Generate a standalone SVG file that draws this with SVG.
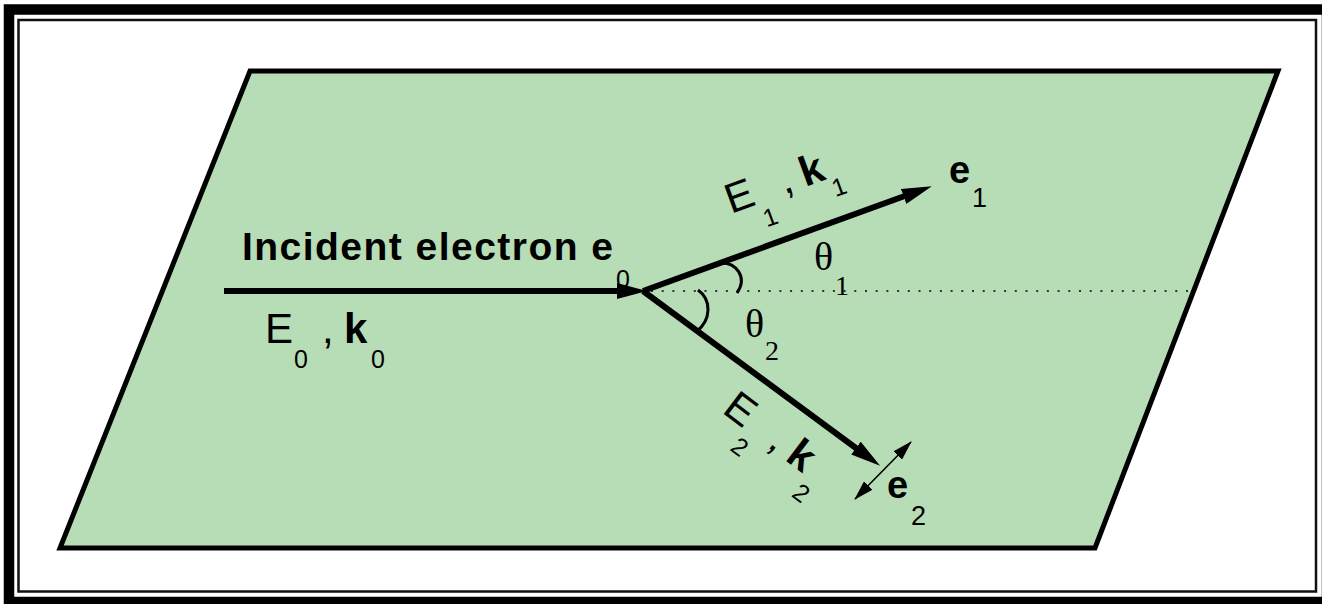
<svg xmlns="http://www.w3.org/2000/svg" width="1322" height="604" viewBox="0 0 1322 604">
<style>
.sans{font-family:"Liberation Sans",Arial,sans-serif;fill:#000}
.serif{font-family:"Liberation Serif","Times New Roman",serif;fill:#000}
.b{font-weight:bold}
.big{font-size:42px}
.sub{font-size:25px}
.th{font-size:40px}
.thsub{font-size:28px}
.ray{stroke:#000;stroke-width:6;fill:none}
</style>
<defs>
<marker id="ah" markerUnits="userSpaceOnUse" viewBox="0 0 30 16" markerWidth="30" markerHeight="16" refX="10" refY="8" orient="auto">
<path d="M0,0 L30,8 L0,16 z" fill="#000"/>
</marker>
<marker id="ahs" markerUnits="userSpaceOnUse" viewBox="0 0 20 12" markerWidth="20" markerHeight="12" refX="19" refY="6" orient="auto-start-reverse">
<path d="M0,0 L20,6 L0,12 z" fill="#000"/>
</marker>
</defs>
<rect x="0" y="0" width="1322" height="604" fill="#fff"/>
<g id="frame">
<rect x="9" y="9.5" width="1318" height="592.5" fill="none" stroke="#000" stroke-width="10.5"/>
<rect x="18.5" y="20" width="1297.5" height="571.5" fill="none" stroke="#111" stroke-width="2.5"/>
</g>
<g id="plane">
<polygon points="250,71 1278,71 1095,548 60,548" fill="#B7DDB6" stroke="#000" stroke-width="5" stroke-linejoin="miter"/>
</g>
<g id="connectors">
<line x1="651" y1="291" x2="1192" y2="291" stroke="#333" stroke-width="2" stroke-dasharray="2 8.7"/>
<line class="ray" x1="224" y1="291" x2="627" y2="291" stroke-width="5" marker-end="url(#ah)"/>
<line class="ray" x1="643" y1="291" x2="913" y2="193" marker-end="url(#ah)"/>
<line class="ray" x1="643" y1="291" x2="864" y2="454" stroke-width="6.5" marker-end="url(#ah)"/>
<line x1="855" y1="499" x2="911" y2="442" stroke="#000" stroke-width="1.6" marker-start="url(#ahs)" marker-end="url(#ahs)"/>
<path d="M720,263 C736,262 748,277 737,293" fill="none" stroke="#000" stroke-width="3"/>
<path d="M698,290 C712,300 711,320 697,331" fill="none" stroke="#000" stroke-width="3"/>
</g>
<g id="incident-label">
<text class="sans b" x="242" y="260" font-size="39" textLength="371" lengthAdjust="spacing">Incident electron e</text>
<text class="sans" x="616" y="288" font-size="25">0</text>
</g>
<g id="label-e0">
<text class="sans big" x="265" y="343">E</text>
<text class="sans sub" x="294" y="368">0</text>
<text class="sans big" x="322" y="343">,</text>
<text class="sans big b" x="344" y="343">k</text>
<text class="sans sub" x="371" y="368">0</text>
</g>
<g id="label-e1k1" transform="translate(731,214) rotate(-20)">
<text class="sans big" x="0" y="0">E</text>
<text class="sans sub" x="29" y="25">1</text>
<text class="sans big" x="57" y="0">,</text>
<text class="sans big b" x="79" y="0">k</text>
<text class="sans sub" x="104" y="20">1</text>
</g>
<g id="label-e2k2" transform="translate(721,412) rotate(37)">
<text class="sans big" x="0" y="0">E</text>
<text class="sans sub" x="29" y="25">2</text>
<text class="sans big" x="57" y="0">,</text>
<text class="sans big b" x="79" y="0">k</text>
<text class="sans sub" x="106" y="25">2</text>
</g>
<g id="label-e1">
<text class="sans b" x="949" y="183" font-size="38">e</text>
<text class="sans" x="972" y="207" font-size="27">1</text>
</g>
<g id="label-e2">
<text class="sans b" x="887" y="498" font-size="38">e</text>
<text class="sans" x="911" y="525" font-size="27">2</text>
</g>
<g id="label-theta1">
<text class="serif th" x="814" y="270">θ</text>
<text class="serif thsub" x="835" y="295">1</text>
</g>
<g id="label-theta2">
<text class="serif th" x="745" y="337">θ</text>
<text class="serif thsub" x="765" y="360">2</text>
</g>
</svg>
